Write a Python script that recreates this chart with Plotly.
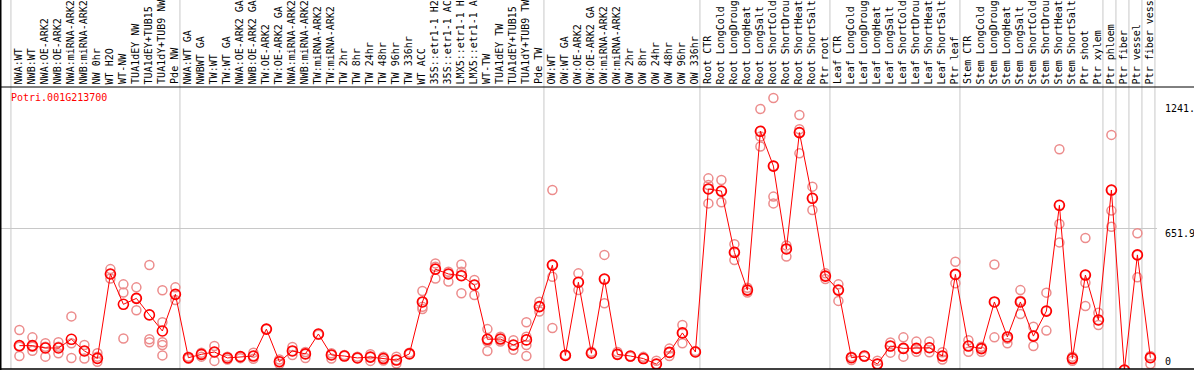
import plotly.graph_objects as go

gene_name = "Potri.001G213700"

categories = [
    "NWA:WT", "NWB:WT", "NWA:OE-ARK2", "NWB:OE-ARK2", "NWA:miRNA-ARK2", "NWB:miRNA-ARK2",
    "NW 0hr", "WT H2O", "WT-NW", "TUA1dEY NW", "TUA1dEY+TUB15", "TUA1dY+TUB9 NW", "Pde NW",
    "NWA:WT GA", "NWBWT GA", "TW:WT", "TW:WT GA", "NWA:OE-ARK2 GA", "NWB:OE-ARK2 GA",
    "TW:OE-ARK2", "TW:OE-ARK2 GA", "NWA:miRNA-ARK2", "NWB:miRNA-ARK2", "TW:miRNA-ARK2",
    "TW:miRNA-ARK2", "TW 2hr", "TW 8hr", "TW 24hr", "TW 48hr", "TW 96hr", "TW 336hr",
    "WT ACC", "35S::etr1-1 H2", "35S::etr1-1 AC", "LMX5::etr1-1 H", "LMX5::etr1-1 A",
    "WT-TW", "TUA1dEY TW", "TUA1dEY+TUB15", "TUA1dY+TUB9 TW", "Pde TW",
    "OW:WT", "OW:WT GA", "OW:OE-ARK2", "OW:OE-ARK2 GA", "OW:miRNA-ARK2", "OW:miRNA-ARK2",
    "OW 2hr", "OW 8hr", "OW 24hr", "OW 48hr", "OW 96hr", "OW 336hr",
    "Root CTR", "Root LongCold", "Root LongDroug", "Root LongHeat", "Root LongSalt",
    "Root ShortCold", "Root ShortDrou", "Root ShortHeat", "Root ShortSalt", "Ptr root",
    "Leaf CTR", "Leaf LongCold", "Leaf LongDroug", "Leaf LongHeat", "Leaf LongSalt",
    "Leaf ShortCold", "Leaf ShortDrou", "Leaf ShortHeat", "Leaf ShortSalt", "Ptr leaf",
    "Stem CTR", "Stem LongCold", "Stem LongDroug", "Stem LongHeat", "Stem LongSalt",
    "Stem ShortCold", "Stem ShortDrou", "Stem ShortHeat", "Stem ShortSalt", "Ptr shoot",
    "Ptr xylem", "Ptr phloem", "Ptr fiber", "Ptr vessel", "Ptr fiber vess",
]

mean_values = [
    97, 97, 86, 86, 127, 72, 37, 435, 292, 320, 242, 166, 339,
    40, 56, 67, 39, 45, 48, 175, 21, 72, 58, 152, 53, 48, 39, 43, 36, 29, 58,
    303, 458, 435, 427, 383, 127, 128, 100, 124, 281,
    477, 51, 396, 61, 411, 56, 48, 36, 10, 65, 157, 67,
    836, 826, 537, 359, 1108, 944, 553, 1102, 792, 425,
    359, 40, 48, 10, 95, 84, 84, 87, 48, 433,
    95, 83, 303, 138, 303, 142, 260, 759, 36, 430, 218,
    831, -18, 525, 40,
]

replicate_values = [
    [171, 92, 48], [136, 92, 73], [108, 92, 45], [113, 92, 61], [235, 108, 39],
    [100, 72, 36], [61, 45, 21], [458, 435, 414], [386, 348, 131], [372, 320, 264],
    [477, 127, 113], [358, 207, 113, 100, 51], [372, 339, 312],
    [45, 40, 35], [64, 56, 45], [95, 67, 25], [45, 39, 32], [45, 38], [64, 48, 35],
    [175, 175], [32, 21, 10], [91, 72, 53], [67, 58, 39], [152, 148], [61, 53, 36],
    [53, 48], [45, 39], [56, 43, 25], [45, 36, 27], [45, 29, 13], [64, 58],
    [355, 303, 280, 270], [485, 469, 414], [446, 435, 399], [480, 446, 427, 344],
    [407, 383, 336], [175, 127, 116, 72], [139, 128, 116], [123, 100, 78],
    [207, 139, 100, 48], [304, 281, 258],
    [831, 477, 422, 180], [53, 51], [438, 396, 359], [68, 61], [525, 411, 297],
    [67, 56], [45, 48], [44, 36], [26, 10], [83, 65, 48], [194, 157, 108], [72, 67],
    [886, 855, 836, 768], [878, 826, 773], [575, 537, 501], [370, 359, 348],
    [1213, 1108, 1083, 1036], [1265, 944, 800, 768], [569, 553, 517],
    [1185, 1102, 1118, 1004], [847, 792, 737], [438, 425, 411],
    [386, 359, 308], [45, 40, 29], [45, 48], [26, 10], [112, 95, 64],
    [136, 84, 45], [116, 84, 68], [116, 87, 66], [66, 48, 32], [493, 433, 391],
    [123, 95, 68], [92, 83, 68], [480, 303, 136], [138, 108, 130],
    [359, 309, 303, 246], [186, 142, 95], [347, 260, 168], [1023, 759, 671, 584],
    [45, 36, 26], [605, 430, 394, 284], [252, 218, 194],
    [1091, 831, 734, 658], [-18, -18], [627, 525, 419], [48, 40, 10],
]

group_starts = [0, 13, 41, 53, 63, 73, 84, 85, 86, 87, 88]

y_tick_values = [0, 651.9, 1241.8]
y_tick_labels = ["0", "651.9", "1241."]

MONO = "DejaVu Sans Mono"
W, H = 1194, 370
ML, MR, MT, MB = 1, 37, 87, 1
PW = W - ML - MR
PH = H - MT - MB

x_idx = list(range(len(categories)))
rep_x, rep_y = [], []
for i, reps in enumerate(replicate_values):
    rep_x += [i] * len(reps)
    rep_y += reps

fig = go.Figure()
fig.add_trace(go.Scatter(
    x=rep_x, y=rep_y, mode="markers",
    marker=dict(symbol="circle-open", size=9, color="rgb(236,140,140)",
                line=dict(width=1.5, color="rgb(236,140,140)")),
    hoverinfo="skip",
))
fig.add_trace(go.Scatter(
    x=x_idx, y=mean_values, mode="lines+markers",
    line=dict(color="#ff0000", width=1),
    marker=dict(symbol="circle-open", size=10, color="#ff0000",
                line=dict(width=1.6, color="#ff0000")),
    text=categories, hoverinfo="text+y",
))

shapes = []
for b in group_starts:
    shapes.append(dict(type="line", xref="x", yref="paper", x0=b - 0.65, x1=b - 0.65,
                       y0=0, y1=(H - MB) / PH + 0.01, layer="below",
                       line=dict(color="#c8c8c8", width=1)))
x_full0 = -ML / PW
x_full1 = (W - ML) / PW
shapes.append(dict(type="line", xref="paper", yref="paper", x0=x_full0, x1=x_full1,
                   y0=1, y1=1, line=dict(color="black", width=1)))
shapes.append(dict(type="line", xref="paper", yref="paper", x0=x_full0, x1=x_full1,
                   y0=0, y1=0, line=dict(color="black", width=1.5)))
shapes.append(dict(type="line", xref="paper", yref="paper", x0=-0.5 / PW, x1=-0.5 / PW,
                   y0=-MB / PH, y1=(H - MB) / PH, line=dict(color="black", width=2)))

annotations = []
for i, c in enumerate(categories):
    annotations.append(dict(x=i, y=1, xref="x", yref="paper", text=c, showarrow=False,
                            textangle=-90, xanchor="center", yanchor="bottom",
                            xshift=-1, yshift=1,
                            font=dict(family=MONO, size=10, color="black")))
annotations.append(dict(x=(9 - ML) / PW, y=(H - MB - 97) / PH, xref="paper", yref="paper",
                        text=gene_name, showarrow=False, xanchor="left", yanchor="middle",
                        font=dict(family=MONO, size=10, color="#ff0000")))
for v, lab in zip(y_tick_values, y_tick_labels):
    if v == 0:
        annotations.append(dict(x=(1163 - ML) / PW, y=v, xref="paper", yref="y", text=lab,
                                showarrow=False, xanchor="left", yanchor="bottom", yshift=-3,
                                font=dict(family=MONO, size=10, color="black")))
    else:
        annotations.append(dict(x=(1163 - ML) / PW, y=v, xref="paper", yref="y", text=lab,
                                showarrow=False, xanchor="left", yanchor="top", yshift=2,
                                font=dict(family=MONO, size=10, color="black")))

fig.update_layout(
    width=W, height=H,
    margin=dict(l=ML, r=MR, t=MT, b=MB, pad=0),
    paper_bgcolor="white", plot_bgcolor="white",
    showlegend=False,
    xaxis=dict(range=[(ML - 19.4) / 13, (W - MR - 19.4) / 13], showgrid=False,
               zeroline=False, showticklabels=False, ticks="", fixedrange=True),
    yaxis=dict(range=[-13.2, 1317], tickvals=[651.9], showgrid=True, gridcolor="#c8c8c8",
               gridwidth=1, zeroline=False, showticklabels=False, ticks="", fixedrange=True),
    shapes=shapes,
    annotations=annotations,
)

fig.write_html("out.html", config={"displayModeBar": False},
               post_script="document.body.style.margin='0px';document.body.style.overflow='hidden';")
